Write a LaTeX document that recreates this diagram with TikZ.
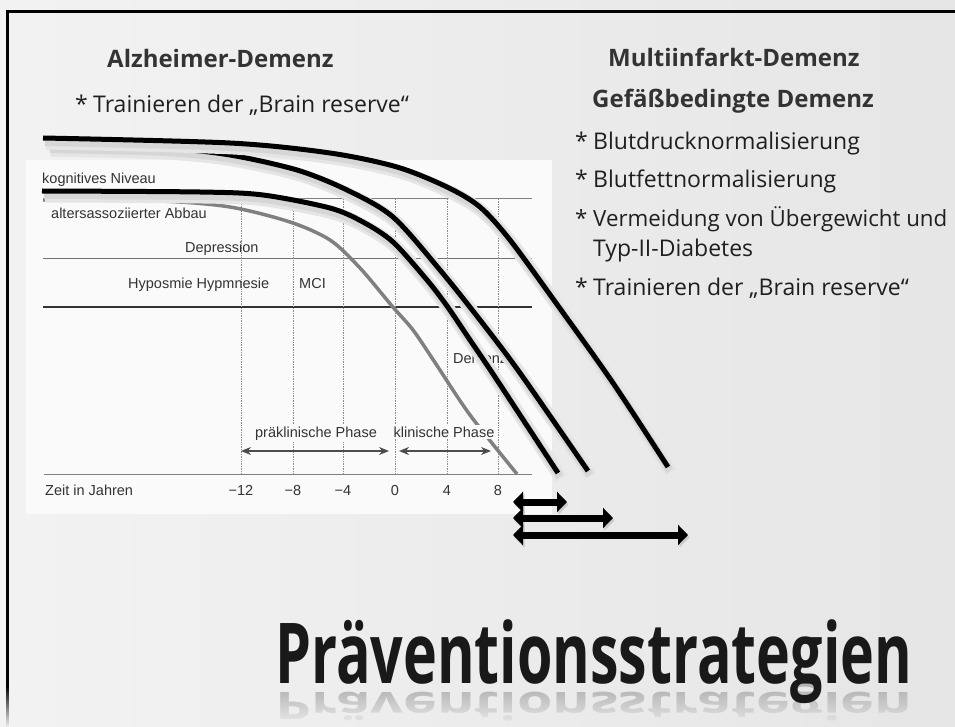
\documentclass[tikz,border=0pt]{standalone}
\usepackage{fontspec}
\setmainfont{Open Sans}
\newfontfamily\chartfont{Liberation Sans}
\usetikzlibrary{arrows.meta}
\usetikzlibrary{fadings}
\usetikzlibrary{positioning}

\newcommand\starbullet{\makebox[18pt][l]{*}}

\tikzset{
  slidetext/.style={anchor=base west, inner sep=0pt, text=black!88,
    font=\fontsize{23}{23}\selectfont},
  headtext/.style={anchor=base west, inner sep=0pt, text=black!80,
    font=\fontsize{24}{24}\selectfont\bfseries},
  charttext/.style={anchor=base west, inner sep=0pt, text=black!80,
    font=\chartfont\fontsize{14.5}{14.5}\selectfont},
  ticklabel/.style={charttext, anchor=base},
  timeline/.style={black!45, densely dotted, line width=0.7pt},
  phase/.style={black!70, line width=1.5pt,
    {Stealth[length=10pt,width=8pt]}-{Stealth[length=10pt,width=8pt]}},
  decline/.style={line width=5pt,
    preaction={draw=black!10, line width=13pt, transform canvas={shift={(3pt,-5pt)}}},
    preaction={draw=black!16, line width=8pt, transform canvas={shift={(2pt,-4pt)}}}},
  span/.style={line width=7pt,
    {Triangle[length=10pt,width=20pt]}-{Triangle[length=10pt,width=20pt]},
    preaction={draw=black!20, transform canvas={shift={(1.5pt,-2.5pt)}}}}
}

\begin{document}
\begin{tikzpicture}[x=1pt,y=-1pt]
    \useasboundingbox (0,0) rectangle (955,727);
    % Slide background
    \shade [left color=black!5, right color=black!10] (0,0) rectangle (955,727);
    \draw [line width=3pt] (955,12) -- (7.5,12) -- (7.5,727);

    % Chart
    \fill [white!98!black] (26,160) rectangle (552,514);
    \draw [black!50, line width=1pt] (43,199) -- (532,199);
    \draw [black!55, line width=1pt] (43,259) -- (532,259);
    \draw [black!80, line width=1.3pt] (43,307) -- (532,307);
    \draw [black!50, line width=1pt] (44,474) -- (532,474);
    \foreach \x/\t [count=\i] in {241/−12,293/−8,343/−4,395/0,447/4,498/8} {
        \draw [timeline] (\x,199) -- (\x,474);
        \node [ticklabel] (tick\i) at (\x,495) {\t};
    }
    \draw [black!50, line width=3.5pt] plot [smooth] coordinates
        {(43,200) (160,201) (230,207) (290,222) (330,240) (360,268)
         (392,306) (413,330) (434,361) (470,415) (517,474)};
    \node [charttext] (niveau) at (42,184) {kognitives Niveau};
    \node [charttext] (abbau) at (51,219) {altersassoziierter Abbau};
    \node [charttext] (depr) at (185,253) {Depression};
    \node [charttext] (hypo) at (128,288) {Hyposmie Hypmnesie};
    \node [charttext] (mci) at (299,288) {MCI};
    \node [charttext] (demenz) at (453,363) {Demenz};
    \node [charttext, anchor=base, fill=white!98!black, inner sep=1.5pt]
        (praeph) at (316,437) {präklinische Phase};
    \node [charttext, anchor=base, fill=white!98!black, inner sep=1.5pt]
        (klinph) at (444,437) {klinische Phase};
    \node [charttext] (zeit) at (45,495) {Zeit in Jahren};
    \coordinate (prea) at (241,451);
    \coordinate (preb) at (389,451);
    \coordinate (klina) at (399,451);
    \coordinate (klinb) at (491,451);
    \draw [phase] (prea) -- (preb);
    \draw [phase] (klina) -- (klinb);

    % Verlaeufe
    \draw [decline] plot [smooth] coordinates
        {(42,191) (200,192) (263,195) (330,208) (363,222) (393,242)
         (427,280) (447,306) (470,340) (495,377) (558,473)};
    \draw [decline] plot [smooth] coordinates
        {(48,145) (163,148) (230,155) (297,170) (347,190) (393,217)
         (440,270) (480,320) (520,373) (588,471)};
    \draw [decline] plot [smooth] coordinates
        {(43,138) (230,143) (330,153) (397,167) (447,187) (480,207)
         (510,240) (556,303) (613,383) (668,467)};

    % Gewonnene Zeit
    \coordinate (span1a) at (513,502);
    \coordinate (span1b) at (567,502);
    \coordinate (span2a) at (513,518);
    \coordinate (span2b) at (613,518);
    \coordinate (span3a) at (513,535);
    \coordinate (span3b) at (688,535);
    \draw [span] (span1a) -- (span1b);
    \draw [span] (span2a) -- (span2b);
    \draw [span] (span3a) -- (span3b);

    % Texte
    \node [headtext] (alzhead) at (107,68) {Alzheimer-Demenz};
    \node [slidetext] (alzitem) at (75,113) {\starbullet Trainieren der „Brain reserve“};
    \node [headtext] (mihead) at (608,67) {Multiinfarkt-Demenz};
    \node [headtext] (gefhead) at (592,108) {Gefäßbedingte Demenz};
    \node [slidetext] (item1) at (575,150) {\starbullet Blutdrucknormalisierung};
    \node [slidetext] (item2) at (575,188) {\starbullet Blutfettnormalisierung};
    \node [slidetext, font=\fontsize{22.3}{22.3}\selectfont]
        (item3) at (575,227) {\starbullet Vermeidung von Übergewicht und};
    \node [slidetext] (item3b) at (593,257) {Typ-II-Diabetes};
    \node [slidetext] (item4) at (575,295) {\starbullet Trainieren der „Brain reserve“};

    % Titel mit Spiegelung
    \node [anchor=base west, inner sep=0pt, yscale=-0.45, transform shape, text=black!30,
        font=\fontsize{84}{84}\selectfont\bfseries]
        (titlemirror) at (275,692) {\resizebox{637pt}{\height}{Präventionsstrategien}};
    \shade [left color=black!5, right color=black!10, path fading=north]
        (0,686) rectangle (955,727);
    \node [anchor=base west, inner sep=0pt, text=black!90,
        font=\fontsize{84}{84}\selectfont\bfseries]
        (title) at (275,683) {\resizebox{637pt}{\height}{Präventionsstrategien}};
\end{tikzpicture}
\end{document}
